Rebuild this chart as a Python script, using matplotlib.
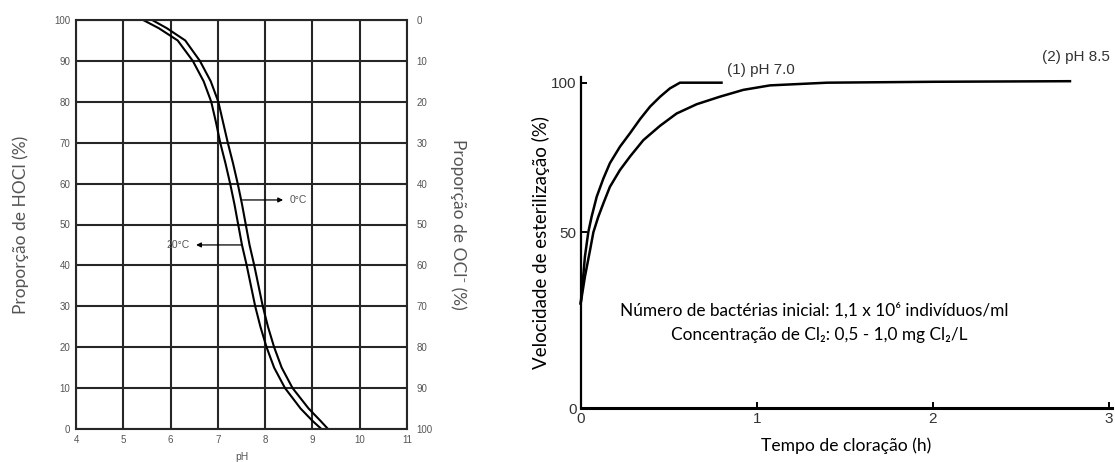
import numpy as np
import matplotlib
matplotlib.use("Agg")
import matplotlib.pyplot as plt

# ---- Left panel: HOCl / OCl- fraction versus pH ----
ph_ticks = [4, 5, 6, 7, 8, 9, 10, 11]
pct_ticks = [0, 10, 20, 30, 40, 50, 60, 70, 80, 90, 100]

hocl_levels = [100, 98, 95, 90, 85, 80, 75, 70, 65, 60, 55, 50,
               45, 40, 35, 30, 25, 20, 15, 10, 5, 2, 0]
ph_20c = [5.42, 5.75, 6.15, 6.47, 6.70, 6.86, 6.96, 7.05, 7.16, 7.26, 7.35, 7.43,
          7.51, 7.61, 7.70, 7.79, 7.90, 8.03, 8.19, 8.42, 8.75, 9.00, 9.19]
ph_0c = [5.61, 5.92, 6.31, 6.62, 6.85, 7.01, 7.11, 7.21, 7.32, 7.42, 7.51, 7.59,
         7.67, 7.77, 7.86, 7.95, 8.06, 8.19, 8.35, 8.58, 8.92, 9.17, 9.33]

# ---- Right panel: sterilization rate versus chlorination time ----
t_ph70 = [0.0, 0.011, 0.024, 0.043, 0.062, 0.091, 0.129, 0.166, 0.223, 0.28,
          0.337, 0.394, 0.451, 0.507, 0.564, 0.80]
v_ph70 = [29.8, 35.5, 43.1, 50.0, 55.2, 61.9, 68.0, 73.1, 78.6, 83.1,
          87.8, 92.0, 95.3, 98.1, 100.0, 100.0]
t_ph85 = [0.0, 0.024, 0.053, 0.072, 0.10, 0.129, 0.166, 0.223, 0.28, 0.356,
          0.451, 0.545, 0.659, 0.79, 0.924, 1.076, 1.4, 2.0, 2.78]
v_ph85 = [29.8, 37.4, 44.9, 50.0, 55.2, 59.7, 65.2, 70.8, 75.3, 80.8,
          85.6, 89.7, 92.8, 95.3, 97.6, 99.1, 100.0, 100.3, 100.5]
time_ticks = [0, 1, 2, 3]
rate_ticks = [0, 50, 100]

W, H = 1115, 462
fig = plt.figure(figsize=(W / 100, H / 100), dpi=100)

grey = "#555555"
ax = fig.add_axes([76 / W, 1 - 429 / H, 331 / W, 409 / H])
ax.set_xlim(4, 11)
ax.set_ylim(0, 100)
ax.set_xticks(ph_ticks)
ax.set_yticks(pct_ticks)
ax.grid(True, color="#262626", lw=1.5)
ax.set_axisbelow(True)
for s in ax.spines.values():
    s.set_color("#262626")
    s.set_linewidth(1.5)
ax.tick_params(length=0, labelsize=7, labelcolor=grey, pad=4,
               labelfontfamily="Liberation Sans")
ax.plot(ph_20c, hocl_levels, color="black", lw=1.5)
ax.plot(ph_0c, hocl_levels, color="black", lw=1.5)
ax.set_xlabel("pH", fontsize=7.5, color=grey, family="Liberation Sans", labelpad=5)
ax.set_ylabel("Proporção de HOCl (%)", fontsize=12.5, color=grey, family="Lato",
              labelpad=18)

ax2 = ax.twinx()
ax2.set_ylim(100, 0)
ax2.set_yticks(pct_ticks)
ax2.tick_params(length=0, labelsize=7, labelcolor=grey, pad=7,
                labelfontfamily="Liberation Sans")
for s in ax2.spines.values():
    s.set_visible(False)
ax2.set_ylabel("Proporção de OCl⁻ (%)", fontsize=12.5, color=grey, family="Lato",
               rotation=270, labelpad=24)

arrow = dict(arrowstyle="-|>", color="black", lw=0.9, mutation_scale=7,
             shrinkA=0, shrinkB=0)
ax.annotate("", xy=(8.38, 56), xytext=(7.52, 56), arrowprops=arrow)
ax.text(8.52, 56, "0°C", fontsize=7.5, color=grey, va="center",
        family="Liberation Sans")
ax.annotate("", xy=(6.54, 45), xytext=(7.50, 45), arrowprops=arrow)
ax.text(6.40, 45, "20°C", fontsize=7.5, color=grey, va="center", ha="right",
        family="Liberation Sans")


# The rate axis is drawn with a wider lower half than upper half
def fwd(v):
    v = np.asarray(v, dtype=float)
    return np.where(v <= 50, v * 176 / 50, 176 + (v - 50) * 149.6 / 50)


def inv(u):
    u = np.asarray(u, dtype=float)
    return np.where(u <= 176, u * 50 / 176, 50 + (u - 176) * 50 / 149.6)


bx = fig.add_axes([580.7 / W, 1 - 408.3 / H, 531.5 / W, 331.6 / H])
bx.set_yscale("function", functions=(fwd, inv))
bx.set_xlim(0, 3.02)
bx.set_ylim(0, 102)
bx.set_xticks(time_ticks)
bx.set_yticks(rate_ticks)
bx.set_yticklabels([str(v) for v in rate_ticks])
bx.spines["top"].set_visible(False)
bx.spines["right"].set_visible(False)
bx.spines["left"].set_linewidth(1.6)
bx.spines["bottom"].set_linewidth(2.2)
bx.tick_params(direction="in", length=4, width=1.4, labelsize=11,
               labelcolor="#333333", labelfontfamily="Liberation Sans")
bx.tick_params(axis="y", pad=3)
bx.tick_params(axis="x", pad=3)
bx.plot(t_ph70, v_ph70, color="black", lw=1.8, clip_on=False)
bx.plot(t_ph85, v_ph85, color="black", lw=1.8, clip_on=False)
bx.text(0.83, 104.2, "(1) pH 7.0", fontsize=11, color="#333333",
        family="Liberation Sans", va="center")
bx.text(2.62, 108.6, "(2) pH 8.5", fontsize=11, color="#333333",
        family="Liberation Sans", va="center")
note_font = ["Lato", "DejaVu Sans"]
bx.text(1.325, 27.9, "Número de bactérias inicial: 1,1 x 10⁶ indivíduos/ml",
        fontsize=12.4, family=note_font, ha="center", va="center")
bx.text(1.355, 20.9, "Concentração de Cl₂: 0,5 - 1,0 mg Cl₂/L",
        fontsize=12.4, family=note_font, ha="center", va="center")
bx.set_xlabel("Tempo de cloração (h)", fontsize=12.6, family="Lato", labelpad=8)
bx.set_ylabel("Velocidade de esterilização (%)", fontsize=13.5, family="Lato",
              labelpad=1)

fig.savefig("out.png", dpi=100)
